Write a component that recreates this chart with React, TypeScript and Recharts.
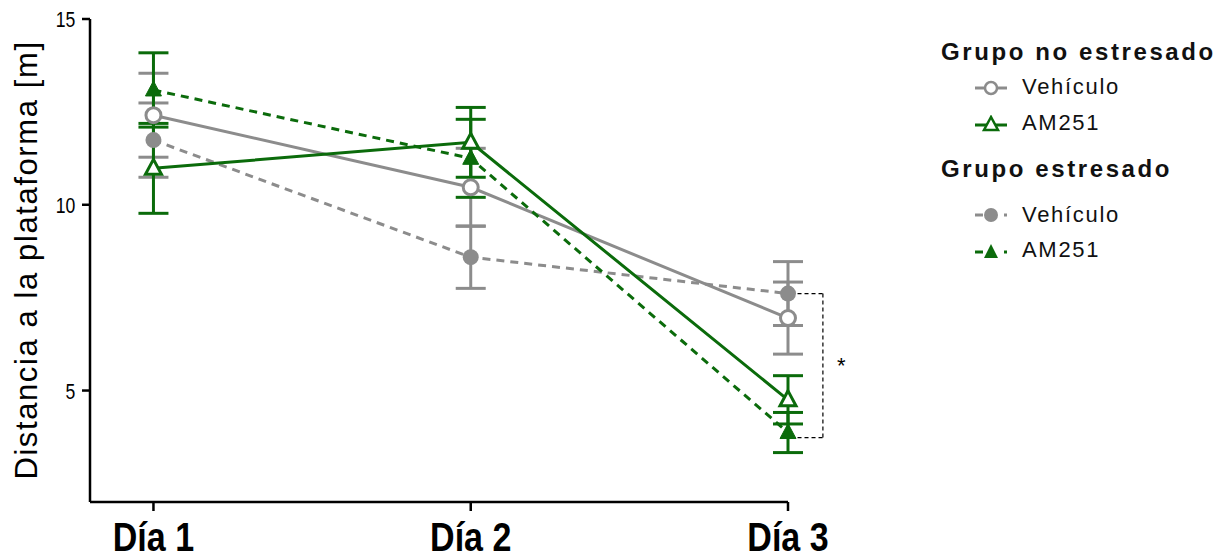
import React from 'react';
import { LineChart, Line, XAxis, YAxis, ErrorBar, ReferenceLine, Label } from 'recharts';

// Días del ensayo
const dias = [1, 2, 3];

// Grupo no estresado
const vehiculoNoEstresado = [12.41, 10.47, 6.95];
const errVehiculoNoEstresado = [1.13, 1.05, 0.97];
const am251NoEstresado = [10.98, 11.68, 4.75];
const errAm251NoEstresado = [1.21, 0.94, 0.65];

// Grupo estresado
const vehiculoEstresado = [11.74, 8.59, 7.61];
const errVehiculoEstresado = [1.0, 0.84, 0.86];
const am251Estresado = [13.09, 11.25, 3.87];
const errAm251Estresado = [1.0, 1.05, 0.54];

const yTicks = [5, 10, 15];

// Corchete de significancia en el día 3
const corcheteX = [3.03, 3.11];
const corcheteY = [7.61, 3.73];

const GRIS = '#8c8c8c';
const VERDE = '#0b6b0b';
const FONT = '"Liberation Sans", Arial, sans-serif';

const data = dias.map((dia, i) => ({
  dia,
  vehNE: vehiculoNoEstresado[i],
  vehNEerr: errVehiculoNoEstresado[i],
  amNE: am251NoEstresado[i],
  amNEerr: errAm251NoEstresado[i],
  vehE: vehiculoEstresado[i],
  vehEerr: errVehiculoEstresado[i],
  amE: am251Estresado[i],
  amEerr: errAm251Estresado[i],
}));

const circuloAbierto = (p: any) => (
  <circle key={p.index} cx={p.cx} cy={p.cy} r={7.5} fill="#fff" stroke={GRIS} strokeWidth={3} />
);
const circuloLleno = (p: any) => (
  <circle key={p.index} cx={p.cx} cy={p.cy} r={8} fill={GRIS} stroke="none" />
);
const triangulo = (cx: number, cy: number) =>
  `${cx},${cy - 9} ${cx - 8},${cy + 6} ${cx + 8},${cy + 6}`;
const trianguloAbierto = (p: any) => (
  <polygon key={p.index} points={triangulo(p.cx, p.cy)} fill="#fff" stroke={VERDE} strokeWidth={3} />
);
const trianguloLleno = (p: any) => (
  <polygon key={p.index} points={triangulo(p.cx, p.cy)} fill={VERDE} stroke={VERDE} strokeWidth={1} />
);

// Etiquetas estrechas (fuente condensada a mano)
const TickDia = ({ x, y, payload }: any) => (
  <g transform={`translate(${x},${y})`}>
    <text transform="scale(0.83,1)" textAnchor="middle" dy={38} fontFamily={FONT} fontWeight={700} fontSize={41} fill="#000">
      {`Día ${payload.value}`}
    </text>
  </g>
);
const TickY = ({ x, y, payload }: any) => (
  <g transform={`translate(${x},${y})`}>
    <text transform="scale(0.8,1)" textAnchor="end" dx={-6} dy={8} fontFamily={FONT} fontSize={22} fill="#000">
      {payload.value}
    </text>
  </g>
);

const LegendIcon = ({ color, dashed, marca }: { color: string; dashed: boolean; marca: string }) => (
  <svg width={36} height={20} style={{ position: 'absolute', left: 0, top: 0 }}>
    {dashed ? (
      <>
        <line x1={2} y1={10} x2={10} y2={10} stroke={color} strokeWidth={3} />
        <line x1={31} y1={10} x2={34} y2={10} stroke={color} strokeWidth={3} />
      </>
    ) : (
      <line x1={2} y1={10} x2={34} y2={10} stroke={color} strokeWidth={3} />
    )}
    {marca === 'circuloAbierto' && <circle cx={18} cy={10} r={6} fill="#fff" stroke={color} strokeWidth={2.5} />}
    {marca === 'circuloLleno' && <circle cx={18} cy={10} r={7} fill={color} />}
    {marca === 'trianguloAbierto' && <polygon points="18,2 11,15 25,15" fill="#fff" stroke={color} strokeWidth={2.5} />}
    {marca === 'trianguloLleno' && <polygon points="18,2 11,16 25,16" fill={color} />}
  </svg>
);

const titulo: React.CSSProperties = {
  position: 'absolute', left: 0, fontFamily: FONT, fontWeight: 700, fontSize: 24,
  letterSpacing: 2.6, color: '#111', whiteSpace: 'nowrap', lineHeight: '24px',
};
const item: React.CSSProperties = {
  position: 'absolute', left: 81, fontFamily: FONT, fontSize: 22, letterSpacing: 1.7,
  color: '#111', whiteSpace: 'nowrap', lineHeight: '22px',
};

const LeyendaGrupos = () => (
  <div style={{ position: 'absolute', left: 941, top: 0, width: 290, height: 270 }}>
    <div style={{ ...titulo, top: 40 }}>Grupo no estresado</div>
    <div style={{ position: 'absolute', left: 32, top: 78 }}>
      <LegendIcon color={GRIS} dashed={false} marca="circuloAbierto" />
    </div>
    <div style={{ ...item, top: 76 }}>Vehículo</div>
    <div style={{ position: 'absolute', left: 32, top: 115 }}>
      <LegendIcon color={VERDE} dashed={false} marca="trianguloAbierto" />
    </div>
    <div style={{ ...item, top: 112 }}>AM251</div>
    <div style={{ ...titulo, top: 157 }}>Grupo estresado</div>
    <div style={{ position: 'absolute', left: 32, top: 205 }}>
      <LegendIcon color={GRIS} dashed marca="circuloLleno" />
    </div>
    <div style={{ ...item, top: 204 }}>Vehículo</div>
    <div style={{ position: 'absolute', left: 32, top: 242 }}>
      <LegendIcon color={VERDE} dashed marca="trianguloLleno" />
    </div>
    <div style={{ ...item, top: 239 }}>AM251</div>
  </div>
);

export default function App() {
  return (
    <div style={{ position: 'fixed', left: 0, top: 0, width: 1231, height: 560, background: '#fff' }}>
      <LineChart width={1231} height={560} data={data} margin={{ top: 19, right: 443, bottom: 0, left: 0 }}>
        <XAxis
          dataKey="dia"
          type="number"
          domain={[0.8, 3]}
          ticks={dias}
          height={58}
          tickSize={9}
          axisLine={{ stroke: '#000', strokeWidth: 2.5 }}
          tickLine={{ stroke: '#000', strokeWidth: 2.5 }}
          tick={<TickDia />}
        />
        <YAxis
          domain={[2, 15]}
          ticks={yTicks}
          width={90}
          tickSize={8}
          axisLine={{ stroke: '#000', strokeWidth: 2.5 }}
          tickLine={{ stroke: '#000', strokeWidth: 2.5 }}
          tick={<TickY />}
        >
          <Label
            content={() => (
              <text
                x={26}
                y={260}
                transform="rotate(-90 26 260)"
                textAnchor="middle"
                dominantBaseline="central"
                fontFamily={FONT}
                fontSize={31}
                letterSpacing={1.6}
                fill="#000"
              >
                Distancia a la plataforma [m]
              </text>
            )}
          />
        </YAxis>

        <Line dataKey="vehE" stroke={GRIS} strokeWidth={3} strokeDasharray="8 6" dot={circuloLleno} activeDot={false} isAnimationActive={false}>
          <ErrorBar dataKey="vehEerr" direction="y" width={15} stroke={GRIS} strokeWidth={3} />
        </Line>
        <Line dataKey="vehNE" stroke={GRIS} strokeWidth={3} dot={circuloAbierto} activeDot={false} isAnimationActive={false}>
          <ErrorBar dataKey="vehNEerr" direction="y" width={15} stroke={GRIS} strokeWidth={3} />
        </Line>
        <Line dataKey="amE" stroke={VERDE} strokeWidth={3} strokeDasharray="8 6" dot={trianguloLleno} activeDot={false} isAnimationActive={false}>
          <ErrorBar dataKey="amEerr" direction="y" width={15} stroke={VERDE} strokeWidth={3} />
        </Line>
        <Line dataKey="amNE" stroke={VERDE} strokeWidth={3} dot={trianguloAbierto} activeDot={false} isAnimationActive={false}>
          <ErrorBar dataKey="amNEerr" direction="y" width={15} stroke={VERDE} strokeWidth={3} />
        </Line>

        <ReferenceLine
          segment={[{ x: corcheteX[0], y: corcheteY[0] }, { x: corcheteX[1], y: corcheteY[0] }]}
          stroke="#000" strokeWidth={1.2} strokeDasharray="4 3" ifOverflow="visible"
        />
        <ReferenceLine
          segment={[{ x: corcheteX[1], y: corcheteY[0] }, { x: corcheteX[1], y: corcheteY[1] }]}
          stroke="#000" strokeWidth={1.2} strokeDasharray="4 3" ifOverflow="visible"
          label={{ value: '*', position: 'right', offset: 14, fontSize: 22, fill: '#000', fontFamily: FONT }}
        />
        <ReferenceLine
          segment={[{ x: corcheteX[0], y: corcheteY[1] }, { x: corcheteX[1], y: corcheteY[1] }]}
          stroke="#000" strokeWidth={1.2} strokeDasharray="4 3" ifOverflow="visible"
        />
      </LineChart>
      <LeyendaGrupos />
    </div>
  );
}
